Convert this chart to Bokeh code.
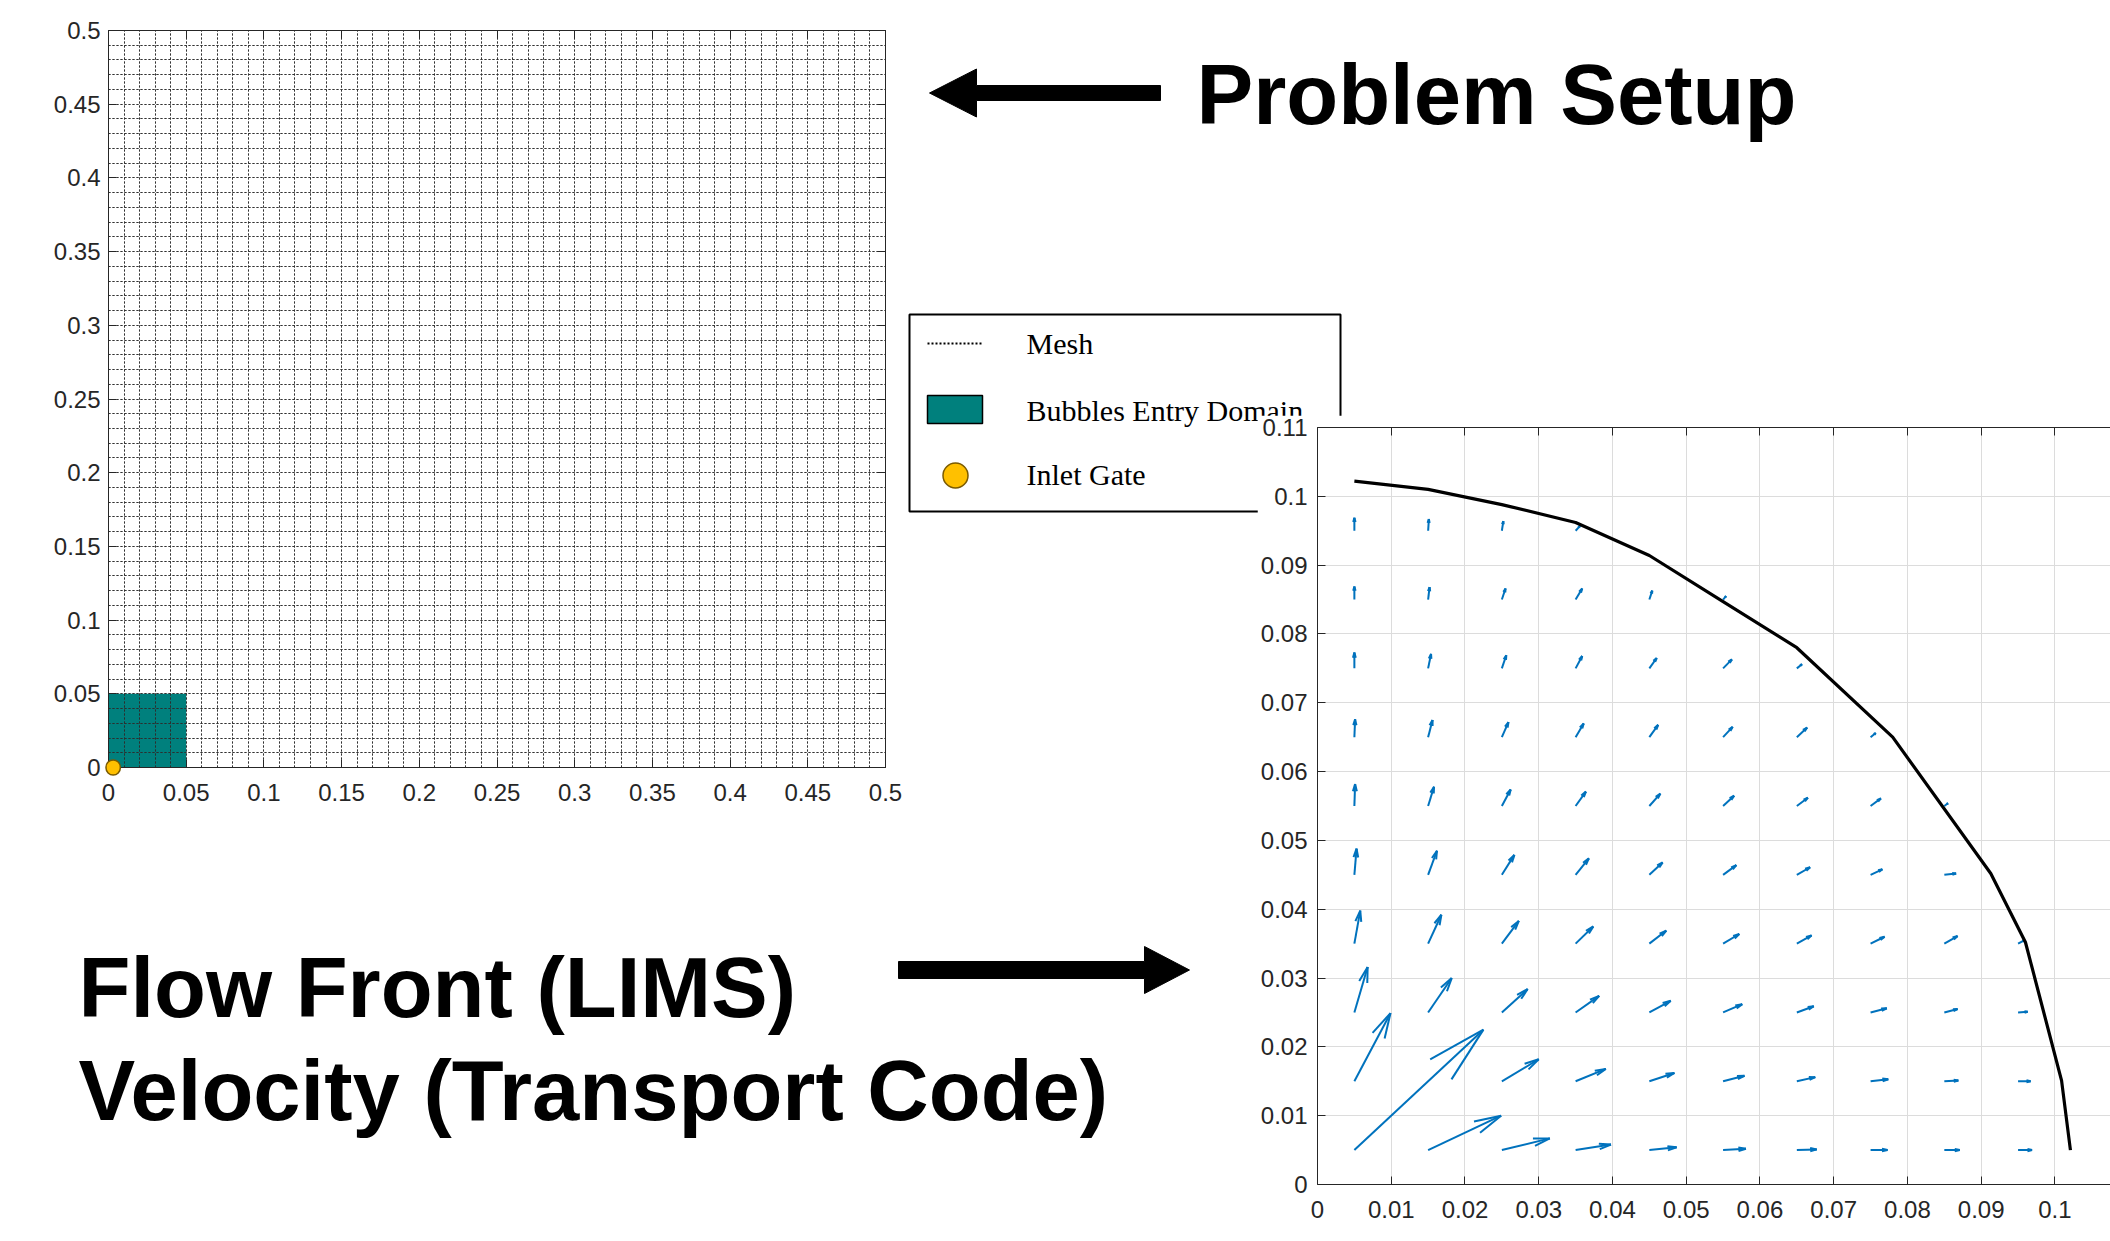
import math
from bokeh.plotting import figure
from bokeh.layouts import column
from bokeh.models import (Range1d, FixedTicker, SingleIntervalTicker, LinearAxis, GridBox, Grid,
                          Label, CustomJSTickFormatter)
from bokeh.core.properties import value
from bokeh.embed import file_html
from bokeh.resources import INLINE

NaN = float("nan")

# ---------------- data: problem setup (left panel) ----------------
setup_ticks = [0, 0.05, 0.1, 0.15, 0.2, 0.25, 0.3, 0.35, 0.4, 0.45, 0.5]
setup_tick_labels = ["0", "0.05", "0.1", "0.15", "0.2", "0.25", "0.3", "0.35", "0.4", "0.45", "0.5"]
mesh_spacing = 0.01
entry_x = [0.0, 0.05]          # bubbles entry domain
entry_y = [0.0, 0.05]
gate_x = 0.003                  # inlet gate
gate_y = 0.0
legend_labels = ["Mesh", "Bubbles Entry Domain", "Inlet Gate"]

# ---------------- data: flow front + velocity (right panel) ----------------
flow_xticks = [0, 0.01, 0.02, 0.03, 0.04, 0.05, 0.06, 0.07, 0.08, 0.09, 0.1]
flow_xtick_labels = ["0", "0.01", "0.02", "0.03", "0.04", "0.05", "0.06", "0.07", "0.08", "0.09", "0.1"]
flow_yticks = [0, 0.01, 0.02, 0.03, 0.04, 0.05, 0.06, 0.07, 0.08, 0.09, 0.1, 0.11]
flow_ytick_labels = ["0", "0.01", "0.02", "0.03", "0.04", "0.05", "0.06", "0.07", "0.08", "0.09", "0.1", "0.11"]

front_x = [0.005, 0.015, 0.025, 0.035, 0.045, 0.055, 0.065, 0.078, 0.0913, 0.096, 0.1009, 0.1021]
front_y = [0.1022, 0.1010, 0.0988, 0.0962, 0.0914, 0.0847, 0.0780, 0.0650, 0.0452, 0.0352, 0.0151, 0.0050]

quiver_x = [0.005, 0.015, 0.025, 0.035, 0.045, 0.055, 0.065, 0.075, 0.085, 0.095]
quiver_y = [0.005, 0.015, 0.025, 0.035, 0.045, 0.055, 0.065, 0.075, 0.085, 0.095]
quiver_u = [
    [0.0175, 0.0099, 0.0065, 0.0048, 0.0037, 0.0031, 0.0027, 0.0023, 0.0021, 0.0019],
    [0.0049, NaN,    0.0050, 0.0041, 0.0034, 0.0029, 0.0025, 0.0024, 0.0019, 0.0017],
    [0.0018, 0.0032, 0.0035, 0.0032, 0.0029, 0.0026, 0.0023, 0.0022, 0.0018, 0.0013],
    [0.0008, 0.0018, 0.0023, 0.0024, 0.0023, 0.0022, 0.0020, 0.0019, 0.0018, 0.0009],
    [0.0003, 0.0012, 0.0017, 0.0018, 0.0018, 0.0018, 0.0018, 0.0016, 0.0016, NaN],
    [0.0001, 0.0008, 0.0012, 0.0014, 0.0015, 0.0015, 0.0015, 0.0014, 0.0005, NaN],
    [0.0001, 0.0006, 0.0009, 0.0011, 0.0012, 0.0013, 0.0014, 0.0007, NaN,    NaN],
    [0.0000, 0.0004, 0.0006, 0.0009, 0.0010, 0.0012, 0.0007, NaN,    NaN,    NaN],
    [0.0000, 0.0002, 0.0005, 0.0009, 0.0004, 0.0004, NaN,    NaN,    NaN,    NaN],
    [0.0000, 0.0001, 0.0002, 0.0006, NaN,    NaN,    NaN,    NaN,    NaN,    NaN],
]
quiver_v = [
    [0.0175, 0.0050, 0.0017, 0.0008, 0.0004, 0.0002, 0.0001, 0.0000, 0.0000, 0.0000],
    [0.0099, NaN,    0.0032, 0.0018, 0.0012, 0.0008, 0.0006, 0.0003, 0.0001, 0.0000],
    [0.0066, 0.0050, 0.0034, 0.0024, 0.0017, 0.0012, 0.0009, 0.0006, 0.0005, 0.0001],
    [0.0048, 0.0042, 0.0033, 0.0025, 0.0019, 0.0014, 0.0012, 0.0010, 0.0011, 0.0005],
    [0.0038, 0.0035, 0.0029, 0.0024, 0.0018, 0.0014, 0.0011, 0.0008, 0.0002, NaN],
    [0.0032, 0.0028, 0.0024, 0.0021, 0.0018, 0.0015, 0.0012, 0.0011, 0.0004, NaN],
    [0.0026, 0.0025, 0.0022, 0.0020, 0.0018, 0.0015, 0.0014, 0.0006, NaN,    NaN],
    [0.0023, 0.0021, 0.0019, 0.0018, 0.0015, 0.0013, 0.0006, NaN,    NaN,    NaN],
    [0.0019, 0.0018, 0.0016, 0.0016, 0.0013, 0.0005, NaN,    NaN,    NaN,    NaN],
    [0.0019, 0.0017, 0.0014, 0.0007, NaN,    NaN,    NaN,    NaN,    NaN,    NaN],
]

# ---------------- styling helpers ----------------
AX_COLOR = "#262626"
TICK_FONT = "Liberation Sans"


def style_axis(ax, ticks, labels, standoff, show_labels=True):
    ax.ticker = FixedTicker(ticks=ticks)
    if show_labels:
        ax.formatter = CustomJSTickFormatter(
            args=dict(tick_vals=ticks, tick_text=labels),
            code="const i = tick_vals.findIndex(t => Math.abs(t - tick) < 1e-9); return i >= 0 ? tick_text[i] : '';")
    else:
        ax.formatter = CustomJSTickFormatter(code="return '';")
    ax.major_tick_in = 8
    ax.major_tick_out = 0
    ax.minor_tick_line_color = None
    ax.axis_line_color = AX_COLOR
    ax.axis_line_width = 1
    ax.major_tick_line_color = AX_COLOR
    ax.major_label_text_font = TICK_FONT
    ax.major_label_text_font_size = "24px"
    ax.major_label_text_color = AX_COLOR
    ax.major_label_standoff = standoff


# ---------------- left panel: problem setup ----------------
p_left = figure(width=1345, height=830, x_range=Range1d(0, 0.5), y_range=Range1d(0, 0.5),
                output_backend="svg", toolbar_location=None,
                min_border_left=108, min_border_right=460, min_border_top=30, min_border_bottom=63)
p_left.outline_line_color = AX_COLOR
p_left.background_fill_color = "white"
p_left.border_fill_color = "white"
style_axis(p_left.xaxis[0], setup_ticks, setup_tick_labels, 16)
style_axis(p_left.yaxis[0], setup_ticks, setup_tick_labels, 8)
top_ax = LinearAxis()
right_ax = LinearAxis()
p_left.add_layout(top_ax, "above")
p_left.add_layout(right_ax, "right")
style_axis(top_ax, setup_ticks, setup_tick_labels, 0, show_labels=False)
style_axis(right_ax, setup_ticks, setup_tick_labels, 0, show_labels=False)

# mesh: light solid lines with a dark dotted pattern on top
mesh_ticker = SingleIntervalTicker(interval=mesh_spacing, num_minor_ticks=0)
for dim in (0, 1):
    base = Grid(dimension=dim, ticker=mesh_ticker, grid_line_color="#c4c4c4", grid_line_width=1)
    base.level = "underlay"
    p_left.add_layout(base)
for g in list(p_left.xgrid) + list(p_left.ygrid):
    g.ticker = mesh_ticker
    g.grid_line_color = "#2e2e2e"
    g.grid_line_dash = "2 2"
    g.grid_line_width = 1
    g.grid_line_alpha = 0.85

entry = p_left.quad(left=entry_x[0], right=entry_x[1], bottom=entry_y[0], top=entry_y[1],
                    fill_color="#00807d", line_color=None)
entry.level = "image"

# inlet gate: a round, padded label box placed in a side panel so it is not clipped to the frame
gate = Label(x=gate_x, y=gate_y, x_units="data", y_units="data", text=" ", text_font_size="1px",
             text_align="center", text_baseline="middle",
             padding=7, border_radius=8,
             background_fill_color="#FFC000", background_fill_alpha=1.0,
             border_line_color="#7a5a00", border_line_width=1.5, level="overlay")
p_left.add_layout(gate, "below")

# ---------------- right panel: flow front + velocity ----------------
R_PX_PER_UNIT = 7393.0
p_right = figure(width=853, height=826, x_range=Range1d(0, 795 / R_PX_PER_UNIT), y_range=Range1d(0, 0.11),
                 output_backend="svg", toolbar_location=None,
                 min_border_left=58, min_border_right=0, min_border_top=12, min_border_bottom=57)
p_right.outline_line_color = None
p_right.background_fill_color = "white"
p_right.border_fill_color = "white"
style_axis(p_right.xaxis[0], flow_xticks, flow_xtick_labels, 16)
style_axis(p_right.yaxis[0], flow_yticks, flow_ytick_labels, 10)
r_top = LinearAxis()
p_right.add_layout(r_top, "above")
style_axis(r_top, flow_xticks, flow_xtick_labels, 0, show_labels=False)
p_right.xgrid.ticker = FixedTicker(ticks=flow_xticks)
p_right.ygrid.ticker = FixedTicker(ticks=flow_yticks)
for g in list(p_right.xgrid) + list(p_right.ygrid):
    g.grid_line_color = "#dcdcdc"
    g.grid_line_width = 1

ALPHA, BETA = 0.33, 0.25
sx0, sy0, sx1, sy1 = [], [], [], []
for j, yy in enumerate(quiver_y):
    for i, xx in enumerate(quiver_x):
        u = quiver_u[j][i]
        v = quiver_v[j][i]
        if math.isnan(u) or math.isnan(v):
            continue
        tx, ty = xx + u, yy + v
        sx0.append(xx); sy0.append(yy); sx1.append(tx); sy1.append(ty)
        sx0.append(tx - ALPHA * (u + BETA * v)); sy0.append(ty - ALPHA * (v - BETA * u))
        sx1.append(tx); sy1.append(ty)
        sx0.append(tx - ALPHA * (u - BETA * v)); sy0.append(ty - ALPHA * (v + BETA * u))
        sx1.append(tx); sy1.append(ty)

p_right.segment(x0=sx0, y0=sy0, x1=sx1, y1=sy1, line_color="#0072BD", line_width=2)
p_right.line(front_x, front_y, line_color="black", line_width=3.2)

# ---------------- overlay: titles, arrows, legend ----------------
p_over = figure(width=2110, height=1241, x_range=Range1d(0, 2110), y_range=Range1d(1241, 0),
                output_backend="svg", toolbar_location=None, x_axis_type=None, y_axis_type=None,
                min_border=0, min_border_left=0, min_border_right=0, min_border_top=0, min_border_bottom=0)
p_over.background_fill_color = None
p_over.border_fill_color = None
p_over.outline_line_color = None

bold = dict(text_font=value("Liberation Sans"), text_font_style="bold", text_font_size="85px",
            text_color="black", text_baseline="alphabetic", text_align="left")
p_over.text(x=[1196], y=[94], text=["Problem Setup"], **bold)
p_over.text(x=[78, 78], y=[987, 1090], text=["Flow Front (LIMS)", "Velocity (Transport Code)"], **bold)

# block arrows
p_over.patches(
    xs=[[929, 976, 976, 1160, 1160, 976, 976],
        [1189, 1144, 1144, 898, 898, 1144, 1144]],
    ys=[[92.5, 68.5, 85, 85, 100, 100, 116.5],
        [969.5, 946, 961, 961, 978, 978, 993]],
    fill_color="black", line_color="black", line_width=1)

# legend of the problem-setup panel
p_over.quad(left=[909], right=[1340], top=[314], bottom=[511], fill_color="white",
            line_color="black", line_width=2)
p_over.line([927, 982], [343, 343], line_color="black", line_width=2, line_dash="2 2")
p_over.quad(left=[927], right=[982], top=[395], bottom=[423], fill_color="#00807d",
            line_color="black", line_width=1.5)
p_over.scatter(x=[955], y=[475], size=25, marker="circle", fill_color="#FFC000",
               line_color="#7a5a00", line_width=1.5)
p_over.text(x=[1026, 1026, 1026], y=[343, 410, 474], text=legend_labels,
            text_font=value("Liberation Serif"), text_font_size="30px", text_color="black",
            text_baseline="alphabetic", text_align="left")

layout = GridBox(children=[(column(p_left), 0, 0, 2, 2),
                           (column(p_over), 0, 0, 3, 3),
                           (column(p_right), 1, 1, 2, 2)],
                 rows=["415px", "415px", "411px"], cols=["1257px", "88px", "765px"], spacing=0)

open("out.html", "w").write(file_html(layout, INLINE))
